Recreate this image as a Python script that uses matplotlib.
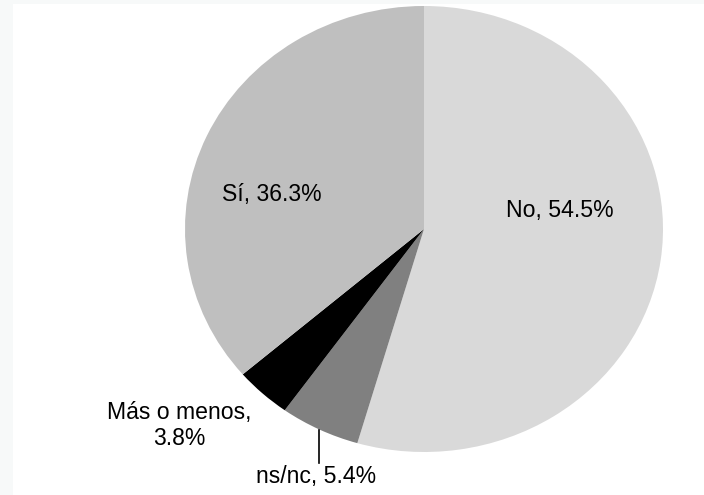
import matplotlib.pyplot as plt
from matplotlib.patches import Rectangle

plt.rcParams['font.family'] = ['Liberation Sans', 'DejaVu Sans']

# --- data ---
labels = ["No", "ns/nc", "Más o menos", "Sí"]
values = [54.5, 5.4, 3.8, 36.3]
colors = ["#d9d9d9", "#808080", "#000000", "#bfbfbf"]

W, H = 704, 495
fig = plt.figure(figsize=(W / 100, H / 100), dpi=100, facecolor="#f7f9f9")
# white plotting area (thin light strip left and top like the screenshot)
fig.patches.append(Rectangle((13 / W, 0), 1, (H - 4) / H, transform=fig.transFigure,
                             facecolor="white", edgecolor="none", zorder=-1))

# pie is slightly squashed: x radius 239px, y radius 223px, centre (424, 229)
cx, cy, rx, ry = 424, 229, 239, 223
ax = fig.add_axes([(cx - rx) / W, (H - cy - ry) / H, 2 * rx / W, 2 * ry / H])
ax.set_facecolor("none")

ax.pie(values, colors=colors, startangle=90, counterclock=False,
       wedgeprops=dict(linewidth=0))
ax.set_aspect("auto")
ax.set_xlim(-1, 1)
ax.set_ylim(-1, 1)
ax.axis("off")


def px(x, y):
    # screenshot pixel -> data coords
    return (x - cx) / rx, (cy - y) / ry


fs = 16.6
x, y = px(559.5, 216.5)
ax.text(x, y, f"{labels[0]}, {values[0]}%", ha="center", va="baseline", fontsize=fs)
x, y = px(272, 201.5)
ax.text(x, y, f"{labels[3]}, {values[3]}%", ha="center", va="baseline", fontsize=fs)
x, y = px(179, 419.5)
ax.text(x, y, f"{labels[2]},", ha="center", va="baseline", fontsize=fs)
x, y = px(179, 445)
ax.text(x, y, f"{values[2]}%", ha="center", va="baseline", fontsize=fs)
x, y = px(316.5, 482.5)
ax.text(x, y, f"{labels[1]}, {values[1]}%", ha="center", va="baseline", fontsize=fs)

# leader line for ns/nc
x0, y0 = px(319.5, 430)
x1, y1 = px(319.5, 462.5)
ax.plot([x0, x1], [y0, y1], color="black", linewidth=1.2, clip_on=False)

fig.savefig("out.png", dpi=100, facecolor=fig.get_facecolor())
